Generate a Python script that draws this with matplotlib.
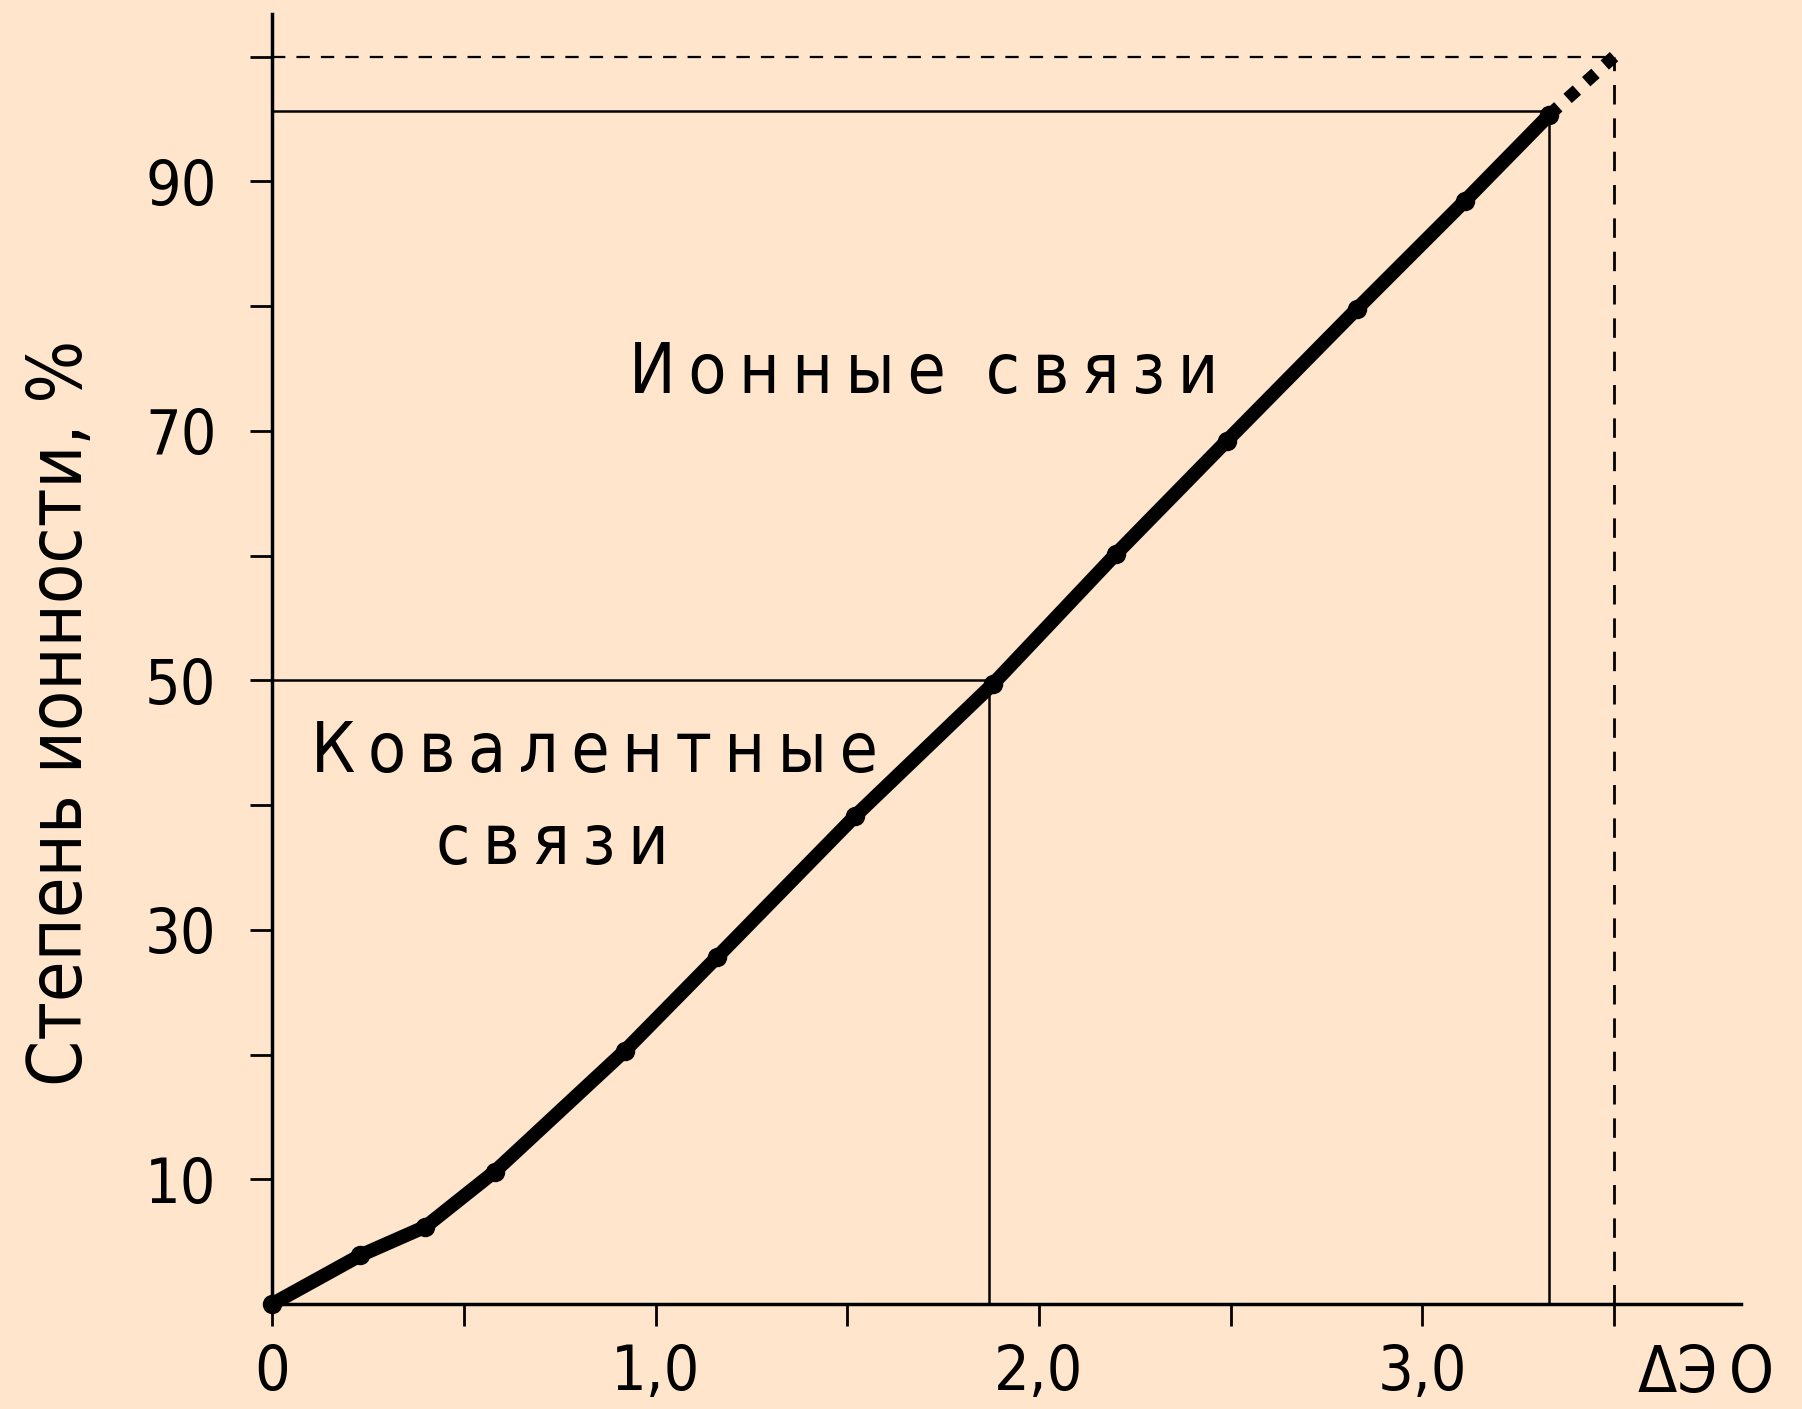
import numpy as np
import matplotlib.pyplot as plt
from matplotlib import font_manager

# points (delta EN vs degree of ionicity, %)
delta_en = [0.0, 0.23, 0.40, 0.58, 0.92, 1.16, 1.52, 1.88, 2.20, 2.49, 2.83, 3.11, 3.33]
ionicity = [0.0, 3.9, 6.2, 10.6, 20.3, 27.8, 39.1, 49.7, 60.1, 69.2, 79.8, 88.4, 95.3]
extrap_x = [3.33, 3.50]
extrap_y = [95.3, 100.0]

# guide lines
half_x, half_y = 1.87, 50.0
top_x, top_y = 3.33, 95.6
limit_x, limit_y = 3.50, 100.0

xticks = [0, 0.5, 1.0, 1.5, 2.0, 2.5, 3.0, 3.5]
xticklabels = ['0', '', '1,0', '', '2,0', '', '3,0', '']
yticks = [10, 20, 30, 40, 50, 60, 70, 80, 90, 100]
yticklabels = ['10', '', '30', '', '50', '', '70', '', '90', '']

bg = '#fee5cc'

# the original uses a narrow sans, take a condensed face if there is one
cands = [f for f in font_manager.fontManager.ttflist
         if ('Narrow' in f.name or 'Condensed' in f.fname or f.stretch == 'condensed')
         and f.weight in (400, 'normal', 'regular') and f.style == 'normal']
cands.sort(key=lambda f: f.fname)
font_path = cands[0].fname if cands else None

def fp(size):
    if font_path:
        return font_manager.FontProperties(fname=font_path, size=size)
    return font_manager.FontProperties(family='DejaVu Sans', size=size)

def spaced(s):
    # letter-spaced words as in the original
    return '  '.join('\u2009'.join(w) for w in s.split(' '))

fig = plt.figure(figsize=(18.02, 14.09), dpi=100, facecolor=bg)
ax = fig.add_axes([0.151, 0.0745, 0.815, 0.9155], facecolor=bg)

# reference lines
ax.plot([0, half_x], [half_y, half_y], color='black', lw=1.8)
ax.plot([half_x, half_x], [0, half_y], color='black', lw=1.8)
ax.plot([0, top_x], [top_y, top_y], color='black', lw=1.8)
ax.plot([top_x, top_x], [0, top_y], color='black', lw=1.8)
ax.plot([0, limit_x], [limit_y, limit_y], color='black', lw=1.6, ls=(0, (6, 5)))
ax.plot([limit_x, limit_x], [0, limit_y], color='black', lw=2.0, ls=(0, (7, 5)))

# curve
ax.plot(delta_en, ionicity, color='black', lw=10, marker='o', ms=13,
        solid_capstyle='round', clip_on=False)
ax.plot(extrap_x, extrap_y, color='black', lw=9, ls=(0, (1.0, 1.0)),
        dash_capstyle='butt', clip_on=False)

ax.text(1.70, 74.6, spaced('Ионные связи'), fontproperties=fp(50), ha='center', va='center')
ax.text(0.84, 44.2, spaced('Ковалентные'), fontproperties=fp(50), ha='center', va='center')
ax.text(0.73, 36.8, spaced('связи'), fontproperties=fp(50), ha='center', va='center')
ax.text(3.74, -5.6, 'ΔЭ\u2009О', fontproperties=fp(46), ha='center', va='center', clip_on=False)

ax.set_xlim(0, 3.83)
ax.set_ylim(0, 103.4)
ax.set_xticks(xticks)
ax.set_xticklabels(xticklabels, fontproperties=fp(45))
ax.set_yticks(yticks)
ax.set_yticklabels(yticklabels, fontproperties=fp(45))
ax.tick_params(direction='out', length=16, width=2, colors='black')
ax.tick_params(axis='y', pad=24)
ax.tick_params(axis='x', pad=12)

for side in ['top', 'right']:
    ax.spines[side].set_visible(False)
for side in ['left', 'bottom']:
    ax.spines[side].set_linewidth(2.5)

fig.text(0.034, 0.494, 'Степень ионности, %', rotation=90, fontproperties=fp(53),
         ha='center', va='center')

fig.savefig('out.png', dpi=100, facecolor=bg)
